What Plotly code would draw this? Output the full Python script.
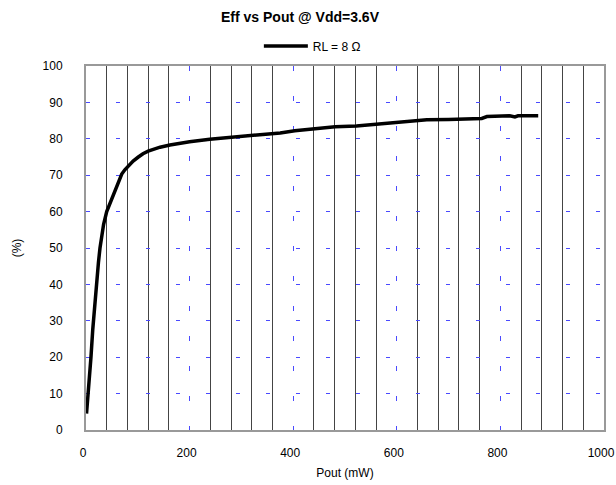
import plotly.graph_objects as go

# Data
pout_mw = [1, 2.5, 5, 6.4, 9.6, 13, 17, 21, 24, 27, 30, 34, 40, 46, 52, 57, 62, 69, 75, 82,
           91, 101, 110, 120, 131, 143, 162, 180, 200, 239, 278, 323, 375, 403, 442, 481,
           522, 561, 600, 625, 658, 700, 722, 764, 774, 818, 828, 834, 873]
eff_pct = [4.5, 7, 10, 13.7, 20, 27.5, 35, 41, 46, 50, 53.5, 56.5, 60, 62.2, 64, 66, 68,
           70.3, 71.5, 72.6, 73.9, 75, 75.9, 76.6, 77.2, 77.7, 78.3, 78.8, 79.2, 79.9, 80.4,
           80.9, 81.6, 82.2, 82.7, 83.3, 83.5, 84.0, 84.5, 84.9, 85.2, 85.3, 85.4, 85.6,
           86.1, 86.3, 86.0, 86.3, 86.3]
series_name = "RL = 8 Ω"
title_text = "Eff vs Pout @ Vdd=3.6V"
x_title = "Pout (mW)"
y_title = "(%)"

FONT = "Liberation Sans, Arial, sans-serif"
BLUE = "#4a4aff"

fig = go.Figure()
fig.add_trace(go.Scatter(
    x=pout_mw, y=eff_pct, mode="lines", name=series_name,
    line=dict(color="black", width=3.5),
))

fig.update_layout(
    width=616, height=485,
    margin=dict(l=86, r=12, t=66, b=55, autoexpand=False),
    paper_bgcolor="white", plot_bgcolor="white",
    font=dict(family=FONT, size=12, color="black"),
    title=dict(text="<b>" + title_text + "</b>", x=0.487, xanchor="center",
               y=0.965, yanchor="middle", font=dict(size=14, family=FONT)),
    showlegend=True,
    legend=dict(orientation="h", x=0.437, xanchor="center", y=1.055, yanchor="middle",
                font=dict(size=12, family=FONT), bgcolor="rgba(0,0,0,0)",
                itemwidth=44),
    xaxis=dict(
        range=[0, 1000], dtick=200, tick0=0, automargin=False,
        showline=True, linecolor="#999999", linewidth=2, mirror=True,
        zeroline=False, ticks="",
        showgrid=True, gridcolor=BLUE, gridwidth=1, griddash="5px,25px",
        minor=dict(dtick=40, tick0=0, showgrid=True, gridcolor="#444444",
                   gridwidth=1, griddash="solid"),
        ticklabelstandoff=11, ticklabelshift=-3,
        title=dict(text=x_title, standoff=9, font=dict(size=12)),
    ),
    yaxis=dict(
        range=[0, 100], dtick=10, tick0=0, automargin=False,
        showline=True, linecolor="#999999", linewidth=2, mirror=True,
        zeroline=False, ticks="outside", ticklen=19, tickcolor="rgba(0,0,0,0)",
        showgrid=True, gridcolor=BLUE, gridwidth=1, griddash="4px,26px",
        title=dict(text=y_title, standoff=18, font=dict(size=12)),
    ),
)

fig.write_html("out.html")
